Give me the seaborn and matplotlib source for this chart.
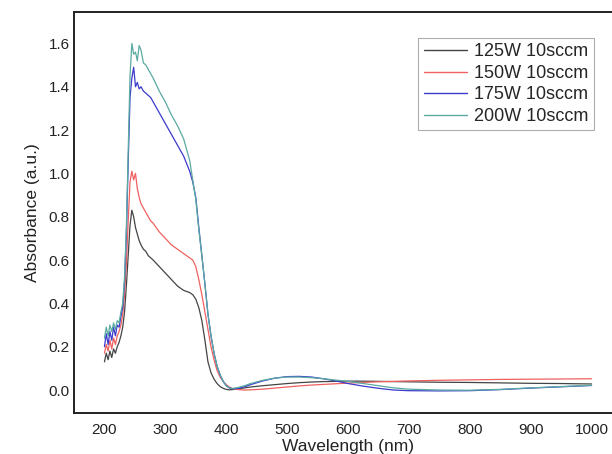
import numpy as np
import pandas as pd
import matplotlib
matplotlib.use("Agg")
import matplotlib.pyplot as plt
import seaborn as sns

wavelength = [200, 203, 206, 209, 212, 215, 218, 221, 224, 227,
              230, 233, 236, 239, 242, 245, 248, 251, 254, 257,
              260, 264, 268, 272, 276, 280, 290, 300, 310, 320,
              330, 340, 345, 350, 355, 360, 365, 370, 375, 380,
              385, 390, 395, 400, 405, 410, 420, 430, 440, 460,
              480, 500, 520, 540, 560, 580, 600, 625, 650, 675,
              700, 750, 800, 850, 900, 950, 1000]

abs_125W = [0.13, 0.17, 0.14, 0.18, 0.15, 0.19, 0.17, 0.20, 0.22, 0.25,
            0.29, 0.36, 0.48, 0.62, 0.76, 0.83, 0.80, 0.75, 0.72, 0.69,
            0.67, 0.65, 0.64, 0.62, 0.61, 0.60, 0.57, 0.54, 0.51, 0.48,
            0.46, 0.45, 0.44, 0.42, 0.38, 0.32, 0.23, 0.13, 0.08, 0.05,
            0.03, 0.016, 0.008, 0.003, 0.001, 0.002, 0.006, 0.010, 0.014, 0.020,
            0.025, 0.030, 0.034, 0.037, 0.039, 0.040, 0.041, 0.041, 0.040, 0.039,
            0.038, 0.036, 0.035, 0.033, 0.031, 0.030, 0.028]

abs_150W = [0.17, 0.21, 0.18, 0.23, 0.19, 0.24, 0.21, 0.25, 0.27, 0.30,
            0.35, 0.44, 0.58, 0.78, 0.96, 1.01, 0.97, 1.00, 0.93, 0.89,
            0.86, 0.84, 0.82, 0.80, 0.78, 0.77, 0.73, 0.70, 0.67, 0.65,
            0.63, 0.61, 0.60, 0.57, 0.51, 0.44, 0.36, 0.28, 0.20, 0.14,
            0.09, 0.06, 0.04, 0.025, 0.014, 0.007, 0.002, 0.000, 0.001, 0.004,
            0.009, 0.014, 0.019, 0.023, 0.026, 0.029, 0.032, 0.035, 0.038, 0.040,
            0.042, 0.045, 0.047, 0.049, 0.050, 0.051, 0.052]

abs_175W = [0.20, 0.26, 0.21, 0.27, 0.23, 0.29, 0.25, 0.30, 0.29, 0.34,
            0.38, 0.50, 0.72, 1.05, 1.35, 1.44, 1.49, 1.40, 1.42, 1.39,
            1.40, 1.38, 1.37, 1.36, 1.35, 1.33, 1.28, 1.23, 1.18, 1.13,
            1.08, 1.01, 0.96, 0.89, 0.75, 0.62, 0.49, 0.35, 0.25, 0.17,
            0.11, 0.07, 0.04, 0.02, 0.01, 0.006, 0.008, 0.015, 0.025, 0.042,
            0.055, 0.062, 0.063, 0.060, 0.052, 0.042, 0.030, 0.018, 0.008, 0.000,
            -0.003, -0.004, -0.003, 0.002, 0.009, 0.015, 0.021]

abs_200W = [0.24, 0.29, 0.25, 0.30, 0.27, 0.31, 0.28, 0.32, 0.31, 0.36,
            0.40, 0.52, 0.75, 1.10, 1.45, 1.60, 1.55, 1.56, 1.52, 1.59,
            1.57, 1.51, 1.50, 1.48, 1.46, 1.44, 1.38, 1.33, 1.27, 1.22,
            1.16, 1.06, 0.97, 0.88, 0.74, 0.62, 0.49, 0.35, 0.25, 0.17,
            0.11, 0.07, 0.04, 0.02, 0.01, 0.007, 0.012, 0.020, 0.030, 0.045,
            0.055, 0.060, 0.060, 0.057, 0.052, 0.046, 0.040, 0.030, 0.020, 0.010,
            0.004, 0.000, -0.001, 0.003, 0.010, 0.016, 0.022]

labels = ["125W 10sccm", "150W 10sccm", "175W 10sccm", "200W 10sccm"]
colors = ["#444444", "#f06060", "#3a3acc", "#5aaaa0"]

frames = []
for lab, vals in zip(labels, [abs_125W, abs_150W, abs_175W, abs_200W]):
    frames.append(pd.DataFrame({"Wavelength": wavelength, "Absorbance": vals, "Sample": lab}))
df = pd.concat(frames, ignore_index=True)

sns.set_style("white")
plt.rcParams["font.family"] = ["Liberation Sans", "DejaVu Sans"]

fig = plt.figure(figsize=(6.12, 4.54), dpi=100)
ax = fig.add_axes([74 / 612, 1 - 413 / 454, (622 - 74) / 612, (413 - 12) / 454])

sns.lineplot(data=df, x="Wavelength", y="Absorbance", hue="Sample",
             palette=dict(zip(labels, colors)), linewidth=0.9, ax=ax,
             estimator=None, sort=False)

ax.set_xlim(150, 1050)
ax.set_ylim(-0.106, 1.745)
ax.set_xticks([200, 300, 400, 500, 600, 700, 800, 900, 1000])
ax.set_yticks([0.0, 0.2, 0.4, 0.6, 0.8, 1.0, 1.2, 1.4, 1.6])
ax.set_yticklabels(["0.0", "0.2", "0.4", "0.6", "0.8", "1.0", "1.2", "1.4", "1.6"])
ax.tick_params(axis="x", length=0, pad=7, labelsize=11, colors="#222222")
ax.tick_params(axis="y", length=0, pad=3, labelsize=11, colors="#222222")
ax.set_xlabel("Wavelength (nm)", fontsize=12.5, color="#222222", labelpad=2)
ax.set_ylabel("Absorbance (a.u.)", fontsize=12.5, color="#222222", labelpad=6)

for side in ["left", "bottom", "top"]:
    ax.spines[side].set_color("#222222")
    ax.spines[side].set_linewidth(1.4)
ax.spines["right"].set_visible(False)

leg = ax.legend(loc="upper right", bbox_to_anchor=(594 / 612, 1 - 38 / 454),
                bbox_transform=fig.transFigure, borderaxespad=0,
                fontsize=13, frameon=True, fancybox=False, handlelength=2.4,
                handletextpad=0.4, labelspacing=0.25, borderpad=0.3)
leg.get_frame().set_edgecolor("#999999")
leg.get_frame().set_linewidth(0.8)
for line in leg.get_lines():
    line.set_linewidth(1.0)

fig.savefig("out.png", dpi=100)
